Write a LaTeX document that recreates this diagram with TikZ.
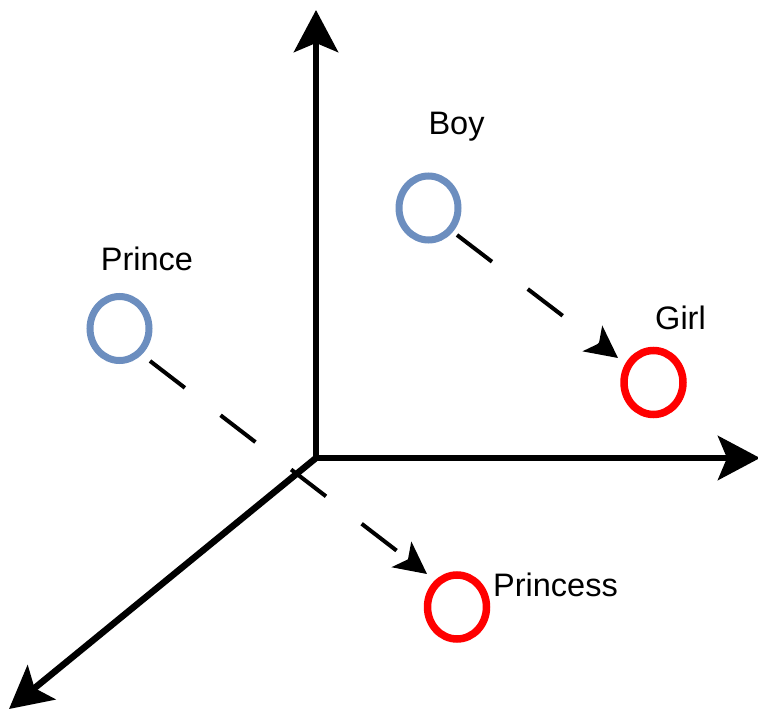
\documentclass[tikz,border=0pt]{standalone}
\usepackage{fontspec}
\setmainfont{Liberation Sans}
\usetikzlibrary{arrows.meta,shapes.geometric}
\definecolor{ringblue}{HTML}{6C8EBF}
\definecolor{ringred}{HTML}{FF0000}
\tikzset{
  axis/.style={line width=6.5pt, -{Stealth[length=42pt,width=44pt,inset=9pt]}},
  shiftarrow/.style={line width=4pt, dash pattern=on 44pt off 45pt,
    -{Stealth[length=32pt,width=32pt,inset=8pt]}},
  ring/.style={ellipse, draw, inner sep=0pt, minimum width=59pt, minimum height=64pt},
  male/.style={ring, draw=ringblue, line width=7pt},
  female/.style={ring, draw=ringred, line width=7.5pt},
  word/.style={anchor=base, inner sep=0pt, font=\fontsize{32.5}{39}\selectfont}
}
\begin{document}
\begin{tikzpicture}[x=1pt, y=-1pt]
  \useasboundingbox (0,0) rectangle (758,709);

  % axes
  \coordinate (O) at (316,458);
  \coordinate (ytip) at (316,10);
  \coordinate (xtip) at (760,458);
  \coordinate (ztip) at (9,709);
  \draw[axis] (O) -- (ytip);
  \draw[axis] (O) -- (xtip);
  \draw[axis] (O) -- (ztip);

  % word points
  \node[male]   (boy)      at (428.5,208) {};
  \node[male]   (prince)   at (119.5,328.5) {};
  \node[female] (girl)     at (653.5,382.5) {};
  \node[female] (princess) at (457,607) {};

  % labels
  \node[word] (boylbl)      at (456.5,134) {Boy};
  \node[word] (princelbl)   at (147,270) {Prince};
  \node[word] (girllbl)     at (680.5,329) {Girl};
  \node[word] (princesslbl) at (555.5,596) {Princess};

  % gender offsets
  \draw[shiftarrow] ([shift={(28.5,27)}]boy.center) -- ([shift={(-35.5,-24.5)}]girl.center);
  \draw[shiftarrow] ([shift={(30.5,32.5)}]prince.center) -- ([shift={(-30,-33)}]princess.center);
\end{tikzpicture}
\end{document}
